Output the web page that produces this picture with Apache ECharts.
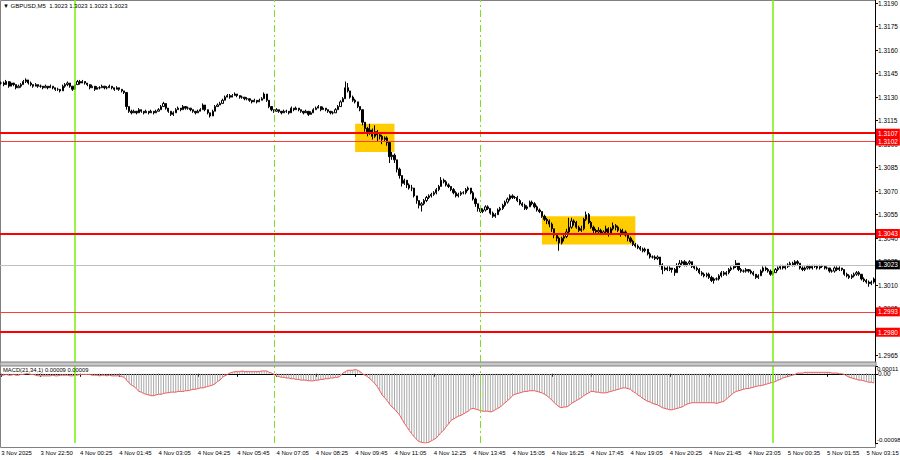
<!DOCTYPE html>
<html><head><meta charset="utf-8">
<script src="https://cdn.jsdelivr.net/npm/echarts@6/dist/echarts.min.js"></script>
<style>html,body{margin:0;padding:0;background:#fff}#c{width:900px;height:460px}</style>
</head><body><div id="c"></div>
<script>
const chartTitle = '\u25BC GBPUSD,M5  1.3023 1.3023 1.3023 1.3023';
const macdTitle = 'MACD(21,34,1) 0.00009 0.00009';
const timeLabels = ['3 Nov 2025','3 Nov 22:50','4 Nov 00:25','4 Nov 01:45','4 Nov 03:05','4 Nov 04:25','4 Nov 05:45','4 Nov 07:05','4 Nov 08:25','4 Nov 09:45','4 Nov 11:05','4 Nov 12:25','4 Nov 13:45','4 Nov 15:05','4 Nov 16:25','4 Nov 17:45','4 Nov 19:05','4 Nov 20:25','4 Nov 21:45','4 Nov 23:05','5 Nov 00:35','5 Nov 01:55','5 Nov 03:15'];
const barsPerLabel = 16;
const priceTicks = [1.2965,1.2980,1.2995,1.3010,1.3025,1.3040,1.3055,1.3070,1.3085,1.3100,1.3115,1.3130,1.3145,1.3160,1.3175,1.3190];
const macdTicks = [0.00011, 0, -0.00098];
const macdTickLabels = ['0.00011','0.00','-0.00098'];

const opens = [
1.3139,1.3139,1.3138,1.3140,1.3137,1.3139,1.3138,1.3136,1.3137,1.3138,1.3140,1.3141,
1.3139,1.3138,1.3137,1.3138,1.3137,1.3137,1.3136,1.3137,1.3136,1.3137,1.3136,1.3135,1.3135,
1.3134,1.3137,1.3138,1.3139,1.3137,1.3135,1.3138,1.3140,1.3139,
1.3140,1.3139,1.3138,1.3136,1.3137,1.3135,1.3136,1.3136,1.3137,1.3136,1.3136,1.3137,1.3136,1.3135,1.3136,1.3135,1.3134,1.3133,
1.3124,1.3121,1.3120,1.3121,1.3120,1.3122,1.3121,1.3120,1.3121,1.3120,1.3121,1.3120,1.3121,
1.3122,1.3124,1.3126,1.3123,1.3121,1.3119,1.3120,1.3122,1.3123,1.3122,1.3124,1.3123,
1.3123,1.3122,1.3121,1.3120,1.3121,1.3122,1.3125,1.3122,1.3120,1.3118,1.3121,1.3124,1.3125,
1.3126,1.3128,1.3130,1.3131,1.3130,1.3131,1.3132,1.3131,1.3130,1.3130,1.3129,1.3129,1.3128,1.3127,1.3128,1.3127,
1.3128,1.3129,1.3132,1.3128,1.3124,1.3122,1.3121,1.3122,1.3121,1.3120,1.3121,1.3121,1.3120,1.3123,1.3122,1.3123,
1.3122,1.3121,1.3120,1.3121,1.3119,1.3120,1.3122,1.3123,1.3124,1.3122,1.3123,1.3122,1.3121,1.3120,1.3120,1.3122,1.3124,1.3127,1.3129,
1.3136,1.3134,1.3130,1.3128,1.3127,1.3124,1.3122,1.3114,1.3110,1.3107,1.3109,1.3105,1.3108,1.3106,1.3105,1.3103,1.3104,1.3101,
1.3092,1.3093,1.3090,1.3084,1.3080,1.3075,1.3077,1.3074,1.3072,1.3072,1.3067,1.3064,1.3061,1.3062,1.3064,1.3066,1.3067,1.3068,
1.3069,1.3071,1.3073,1.3077,1.3076,1.3074,1.3073,1.3071,1.3069,1.3067,1.3068,1.3069,1.3069,1.3071,
1.3072,1.3069,1.3065,1.3062,1.3059,1.3057,1.3058,1.3060,1.3059,1.3056,1.3054,1.3055,1.3058,1.3059,
1.3061,1.3063,1.3065,1.3067,1.3066,1.3066,1.3064,1.3062,1.3061,1.3059,1.3060,1.3063,1.3062,1.3060,1.3058,
1.3057,1.3054,1.3052,1.3051,1.3049,1.3046,1.3042,1.3040,1.3037,1.3040,1.3041,1.3044,1.3047,1.3051,1.3050,1.3047,1.3045,1.3046,1.3052,
1.3055,1.3050,1.3047,1.3045,1.3044,1.3045,1.3043,1.3044,1.3046,1.3043,1.3046,1.3048,1.3047,1.3045,1.3043,1.3044,1.3042,
1.3040,1.3038,1.3036,1.3035,1.3034,1.3033,1.3032,1.3033,1.3030,1.3028,1.3028,1.3027,1.3028,1.3023,1.3020,1.3021,1.3020,1.3021,1.3020,1.3018,
1.3022,1.3024,1.3025,1.3023,1.3024,1.3025,1.3022,1.3021,1.3020,1.3018,1.3017,1.3016,1.3017,1.3015,1.3013,1.3014,1.3014,1.3016,1.3018,1.3017,1.3018,1.3020,1.3021,1.3022,
1.3024,1.3020,1.3019,1.3019,1.3020,1.3019,1.3018,1.3017,1.3015,1.3016,1.3019,1.3021,1.3020,1.3019,1.3017,1.3018,1.3020,1.3021,1.3022,1.3021,1.3022,1.3023,1.3024,1.3023,1.3025,
1.3024,1.3021,1.3020,1.3021,1.3022,1.3021,1.3022,1.3022,1.3021,1.3022,1.3022,1.3021,1.3021,1.3019,1.3019,1.3021,1.3020,1.3021,1.3020,1.3017,1.3016,1.3015,1.3016,1.3017,1.3018,
1.3017,1.3014,1.3013,1.3012,1.3011,1.3012];

const closes = [
1.3139,1.3138,1.3140,1.3137,1.3139,1.3138,1.3136,1.3137,1.3138,1.3140,1.3141,1.3139,
1.3138,1.3137,1.3138,1.3137,1.3137,1.3136,1.3137,1.3136,1.3137,1.3136,1.3135,1.3135,1.3134,
1.3137,1.3138,1.3139,1.3137,1.3135,1.3138,1.3140,1.3139,1.3140,
1.3139,1.3138,1.3136,1.3137,1.3135,1.3136,1.3136,1.3137,1.3136,1.3136,1.3137,1.3136,1.3135,1.3136,1.3135,1.3134,1.3133,1.3124,
1.3121,1.3120,1.3121,1.3120,1.3122,1.3121,1.3120,1.3121,1.3120,1.3121,1.3120,1.3121,1.3122,
1.3124,1.3126,1.3123,1.3121,1.3119,1.3120,1.3122,1.3123,1.3122,1.3124,1.3123,1.3123,
1.3122,1.3121,1.3120,1.3121,1.3122,1.3125,1.3122,1.3120,1.3118,1.3121,1.3124,1.3125,1.3126,
1.3128,1.3130,1.3131,1.3130,1.3131,1.3132,1.3131,1.3130,1.3130,1.3129,1.3129,1.3128,1.3127,1.3128,1.3127,1.3128,
1.3129,1.3132,1.3128,1.3124,1.3122,1.3121,1.3122,1.3121,1.3120,1.3121,1.3121,1.3120,1.3123,1.3122,1.3123,1.3122,
1.3121,1.3120,1.3121,1.3119,1.3120,1.3122,1.3123,1.3124,1.3122,1.3123,1.3122,1.3121,1.3120,1.3120,1.3122,1.3124,1.3127,1.3129,1.3136,
1.3134,1.3130,1.3128,1.3127,1.3124,1.3122,1.3114,1.3110,1.3107,1.3109,1.3105,1.3108,1.3106,1.3105,1.3103,1.3104,1.3101,1.3092,
1.3093,1.3090,1.3084,1.3080,1.3075,1.3077,1.3074,1.3072,1.3072,1.3067,1.3064,1.3061,1.3062,1.3064,1.3066,1.3067,1.3068,1.3069,
1.3071,1.3073,1.3077,1.3076,1.3074,1.3073,1.3071,1.3069,1.3067,1.3068,1.3069,1.3069,1.3071,1.3072,
1.3069,1.3065,1.3062,1.3059,1.3057,1.3058,1.3060,1.3059,1.3056,1.3054,1.3055,1.3058,1.3059,1.3061,
1.3063,1.3065,1.3067,1.3066,1.3066,1.3064,1.3062,1.3061,1.3059,1.3060,1.3063,1.3062,1.3060,1.3058,1.3057,
1.3054,1.3052,1.3051,1.3049,1.3046,1.3042,1.3040,1.3037,1.3040,1.3041,1.3044,1.3047,1.3051,1.3050,1.3047,1.3045,1.3046,1.3052,1.3055,
1.3050,1.3047,1.3045,1.3044,1.3045,1.3043,1.3044,1.3046,1.3043,1.3046,1.3048,1.3047,1.3045,1.3043,1.3044,1.3042,1.3040,
1.3038,1.3036,1.3035,1.3034,1.3033,1.3032,1.3033,1.3030,1.3028,1.3028,1.3027,1.3028,1.3023,1.3020,1.3021,1.3020,1.3021,1.3020,1.3018,1.3022,
1.3024,1.3025,1.3023,1.3024,1.3025,1.3022,1.3021,1.3020,1.3018,1.3017,1.3016,1.3017,1.3015,1.3013,1.3014,1.3014,1.3016,1.3018,1.3017,1.3018,1.3020,1.3021,1.3022,1.3024,
1.3020,1.3019,1.3019,1.3020,1.3019,1.3018,1.3017,1.3015,1.3016,1.3019,1.3021,1.3020,1.3019,1.3017,1.3018,1.3020,1.3021,1.3022,1.3021,1.3022,1.3023,1.3024,1.3023,1.3025,1.3024,
1.3021,1.3020,1.3021,1.3022,1.3021,1.3022,1.3022,1.3021,1.3022,1.3022,1.3021,1.3021,1.3019,1.3019,1.3021,1.3020,1.3021,1.3020,1.3017,1.3016,1.3015,1.3016,1.3017,1.3018,1.3017,
1.3014,1.3013,1.3012,1.3011,1.3012,1.3014];

const highs = [
1.3140,1.3140,1.3141,1.3140,1.3140,1.3139,1.3138,1.3138,1.3139,1.3141,1.3142,1.3141,
1.3140,1.3138,1.3139,1.3138,1.3138,1.3137,1.3138,1.3137,1.3138,1.3137,1.3136,1.3136,1.3135,
1.3138,1.3139,1.3140,1.3139,1.3137,1.3138,1.3141,1.3141,1.3141,
1.3140,1.3139,1.3138,1.3138,1.3137,1.3137,1.3137,1.3138,1.3137,1.3137,1.3138,1.3137,1.3136,1.3137,1.3136,1.3135,1.3134,1.3133,
1.3124,1.3122,1.3122,1.3121,1.3123,1.3122,1.3121,1.3122,1.3121,1.3122,1.3121,1.3122,1.3123,
1.3125,1.3127,1.3126,1.3123,1.3121,1.3121,1.3123,1.3124,1.3123,1.3125,1.3124,1.3124,
1.3123,1.3122,1.3121,1.3122,1.3123,1.3126,1.3125,1.3122,1.3120,1.3122,1.3125,1.3126,1.3127,
1.3129,1.3131,1.3132,1.3132,1.3132,1.3133,1.3132,1.3131,1.3131,1.3130,1.3130,1.3129,1.3128,1.3129,1.3128,1.3129,
1.3130,1.3133,1.3132,1.3128,1.3124,1.3122,1.3123,1.3122,1.3121,1.3122,1.3122,1.3121,1.3124,1.3123,1.3124,1.3123,
1.3122,1.3121,1.3122,1.3121,1.3121,1.3123,1.3124,1.3125,1.3124,1.3124,1.3123,1.3122,1.3121,1.3121,1.3123,1.3125,1.3128,1.3130,1.3140,
1.3139,1.3134,1.3131,1.3129,1.3127,1.3124,1.3122,1.3114,1.3111,1.3113,1.3110,1.3112,1.3109,1.3107,1.3106,1.3105,1.3105,1.3101,
1.3095,1.3094,1.3090,1.3085,1.3080,1.3078,1.3077,1.3075,1.3074,1.3072,1.3067,1.3064,1.3063,1.3065,1.3067,1.3068,1.3069,1.3070,
1.3072,1.3074,1.3079,1.3078,1.3077,1.3075,1.3073,1.3072,1.3070,1.3069,1.3070,1.3070,1.3072,1.3073,
1.3072,1.3070,1.3066,1.3062,1.3060,1.3059,1.3061,1.3061,1.3059,1.3057,1.3056,1.3059,1.3060,1.3062,
1.3064,1.3066,1.3068,1.3068,1.3067,1.3067,1.3065,1.3063,1.3062,1.3061,1.3064,1.3064,1.3063,1.3061,1.3059,
1.3057,1.3055,1.3053,1.3052,1.3050,1.3046,1.3043,1.3041,1.3041,1.3043,1.3046,1.3053,1.3053,1.3052,1.3051,1.3048,1.3048,1.3053,1.3057,
1.3056,1.3051,1.3048,1.3046,1.3047,1.3046,1.3045,1.3048,1.3047,1.3047,1.3050,1.3049,1.3048,1.3046,1.3046,1.3045,1.3043,
1.3041,1.3039,1.3037,1.3036,1.3035,1.3034,1.3034,1.3033,1.3031,1.3029,1.3029,1.3029,1.3028,1.3024,1.3022,1.3022,1.3022,1.3021,1.3021,1.3024,
1.3026,1.3026,1.3026,1.3025,1.3026,1.3025,1.3023,1.3022,1.3021,1.3019,1.3018,1.3018,1.3018,1.3016,1.3015,1.3015,1.3017,1.3019,1.3019,1.3019,1.3021,1.3022,1.3023,1.3026,
1.3024,1.3021,1.3020,1.3021,1.3020,1.3020,1.3019,1.3017,1.3017,1.3020,1.3022,1.3022,1.3021,1.3020,1.3019,1.3021,1.3022,1.3023,1.3023,1.3023,1.3024,1.3025,1.3025,1.3026,1.3026,
1.3024,1.3022,1.3022,1.3023,1.3023,1.3023,1.3023,1.3023,1.3023,1.3023,1.3022,1.3022,1.3021,1.3020,1.3022,1.3022,1.3022,1.3021,1.3020,1.3018,1.3017,1.3017,1.3018,1.3019,1.3019,
1.3017,1.3015,1.3014,1.3013,1.3013,1.3015];

const lows = [
1.3138,1.3137,1.3138,1.3136,1.3137,1.3137,1.3135,1.3136,1.3136,1.3138,1.3139,1.3138,
1.3137,1.3136,1.3137,1.3136,1.3136,1.3135,1.3136,1.3135,1.3136,1.3135,1.3134,1.3134,1.3133,
1.3134,1.3136,1.3137,1.3136,1.3134,1.3135,1.3138,1.3138,1.3139,
1.3138,1.3137,1.3135,1.3136,1.3134,1.3135,1.3135,1.3136,1.3135,1.3135,1.3136,1.3135,1.3134,1.3135,1.3134,1.3133,1.3132,1.3122,
1.3120,1.3119,1.3120,1.3119,1.3120,1.3120,1.3119,1.3120,1.3119,1.3120,1.3119,1.3120,1.3121,
1.3122,1.3124,1.3122,1.3120,1.3118,1.3118,1.3120,1.3122,1.3121,1.3122,1.3122,1.3122,
1.3121,1.3120,1.3119,1.3120,1.3121,1.3122,1.3121,1.3119,1.3117,1.3118,1.3121,1.3124,1.3125,
1.3126,1.3128,1.3130,1.3129,1.3130,1.3131,1.3130,1.3129,1.3129,1.3128,1.3128,1.3127,1.3126,1.3127,1.3126,1.3127,
1.3128,1.3129,1.3127,1.3123,1.3121,1.3120,1.3121,1.3120,1.3119,1.3120,1.3120,1.3119,1.3120,1.3121,1.3122,1.3121,
1.3120,1.3119,1.3120,1.3118,1.3119,1.3120,1.3122,1.3123,1.3121,1.3122,1.3121,1.3120,1.3119,1.3119,1.3120,1.3122,1.3124,1.3127,1.3129,
1.3133,1.3129,1.3127,1.3126,1.3123,1.3121,1.3112,1.3108,1.3105,1.3106,1.3103,1.3104,1.3102,1.3103,1.3100,1.3102,1.3099,1.3088,
1.3090,1.3088,1.3082,1.3078,1.3073,1.3074,1.3072,1.3071,1.3070,1.3066,1.3062,1.3059,1.3057,1.3061,1.3063,1.3065,1.3066,1.3067,
1.3068,1.3070,1.3073,1.3075,1.3073,1.3072,1.3070,1.3068,1.3066,1.3066,1.3067,1.3068,1.3068,1.3070,
1.3068,1.3064,1.3060,1.3057,1.3056,1.3056,1.3057,1.3058,1.3055,1.3053,1.3053,1.3055,1.3057,1.3058,
1.3060,1.3062,1.3064,1.3065,1.3065,1.3063,1.3061,1.3060,1.3058,1.3058,1.3060,1.3061,1.3059,1.3057,1.3056,
1.3053,1.3051,1.3049,1.3047,1.3044,1.3040,1.3038,1.3032,1.3036,1.3038,1.3040,1.3043,1.3046,1.3048,1.3046,1.3044,1.3044,1.3045,1.3051,
1.3049,1.3046,1.3043,1.3042,1.3043,1.3042,1.3042,1.3043,1.3041,1.3042,1.3045,1.3045,1.3044,1.3041,1.3042,1.3041,1.3038,
1.3037,1.3035,1.3034,1.3033,1.3032,1.3031,1.3031,1.3029,1.3027,1.3027,1.3026,1.3026,1.3022,1.3017,1.3019,1.3019,1.3019,1.3018,1.3016,1.3018,
1.3021,1.3023,1.3022,1.3022,1.3023,1.3021,1.3020,1.3019,1.3017,1.3016,1.3015,1.3015,1.3014,1.3012,1.3011,1.3013,1.3013,1.3015,1.3016,1.3016,1.3017,1.3019,1.3020,1.3021,
1.3019,1.3018,1.3018,1.3018,1.3018,1.3017,1.3016,1.3014,1.3014,1.3016,1.3018,1.3019,1.3018,1.3016,1.3016,1.3018,1.3019,1.3020,1.3020,1.3020,1.3021,1.3022,1.3022,1.3022,1.3023,
1.3020,1.3019,1.3019,1.3020,1.3020,1.3020,1.3021,1.3020,1.3020,1.3021,1.3020,1.3020,1.3018,1.3018,1.3018,1.3019,1.3019,1.3019,1.3016,1.3015,1.3014,1.3014,1.3015,1.3016,1.3016,
1.3013,1.3012,1.3011,1.3009,1.3010,1.3011];

const macd = [
-0.00002,-0.00002,-0.00001,-0.00002,-0.00002,-0.00001,-0.00002,-0.00002,-0.00001,
-0.00001,0,0,-0.00001,-0.00001,
-0.00002,-0.00003,-0.00003,-0.00003,-0.00003,-0.00003,-0.00003,-0.00002,-0.00003,-0.00003,
-0.00002,-0.00002,-0.00002,-0.00002,
-0.00003,-0.00003,-0.00002,-0.00002,
-0.00001,-0.00001,-0.00001,-0.00001,-0.00001,-0.00002,-0.00002,
-0.00002,-0.00003,-0.00002,-0.00002,-0.00003,-0.00002,-0.00003,-0.00003,-0.00003,-0.00003,
-0.00004,-0.00005,-0.00009,-0.00013,-0.00016,-0.00018,-0.00021,
-0.00025,-0.00026,-0.00028,-0.00029,-0.00030,-0.00031,-0.00031,
-0.00030,-0.00029,-0.00029,-0.00028,-0.00027,
-0.00027,-0.00026,-0.00026,-0.00026,-0.00025,-0.00025,
-0.00025,-0.00024,-0.00024,-0.00023,-0.00022,-0.00022,-0.00021,
-0.00020,-0.00020,-0.00019,-0.00018,-0.00017,-0.00016,
-0.00014,-0.00011,-0.00009,-0.00005,-0.00003,-0.00001,0.00001,
0.00002,0.00003,0.00003,0.00003,0.00004,0.00003,0.00003,0.00003,0.00003,0.00003,0.00003,0.00003,
0.00004,0.00004,0.00004,0.00002,0.00001,-0.00001,
-0.00003,-0.00004,-0.00005,-0.00005,-0.00006,-0.00006,-0.00007,-0.00007,
-0.00008,-0.00008,-0.00009,-0.00009,-0.00009,-0.00010,-0.00010,
-0.00010,-0.00009,-0.00009,-0.00008,-0.00008,-0.00007,-0.00007,-0.00006,
-0.00006,-0.00005,-0.00005,-0.00003,0.00001,0.00003,
0.00005,0.00005,0.00005,0.00006,0.00005,0.00003,
0,-0.00002,-0.00004,-0.00007,-0.00010,-0.00014,-0.00018,
-0.00024,-0.00030,-0.00034,-0.00038,-0.00043,-0.00047,-0.00050,
-0.00054,-0.00058,-0.00064,-0.00070,-0.00075,-0.00080,-0.00085,
-0.00089,-0.00093,-0.00096,-0.00097,-0.00098,-0.00098,-0.00097,-0.00095,
-0.00093,-0.00091,-0.00087,-0.00083,-0.00080,-0.00075,-0.00071,-0.00066,
-0.00064,-0.00062,-0.00060,-0.00059,-0.00057,-0.00055,-0.00053,
-0.00050,-0.00049,-0.00050,-0.00051,-0.00052,-0.00053,
-0.00053,-0.00053,-0.00054,-0.00053,-0.00051,-0.00049,-0.00047,-0.00044,
-0.00041,-0.00038,-0.00035,-0.00031,-0.00029,-0.00028,-0.00027,-0.00026,
-0.00025,-0.00025,-0.00024,-0.00024,-0.00024,-0.00025,-0.00026,-0.00027,
-0.00029,-0.00031,-0.00034,-0.00037,-0.00041,-0.00044,-0.00047,
-0.00048,-0.00047,-0.00047,-0.00045,-0.00042,-0.00040,
-0.00038,-0.00036,-0.00034,-0.00031,-0.00029,-0.00027,-0.00025,
-0.00025,-0.00026,-0.00026,-0.00027,-0.00027,-0.00027,-0.00026,
-0.00025,-0.00024,-0.00023,-0.00022,-0.00021,-0.00020,
-0.00020,-0.00021,-0.00022,-0.00025,-0.00027,-0.00030,-0.00032,-0.00035,
-0.00037,-0.00039,-0.00040,-0.00042,-0.00043,-0.00044,-0.00046,
-0.00048,-0.00049,-0.00050,-0.00051,-0.00051,-0.00050,-0.00049,-0.00048,
-0.00047,-0.00045,-0.00043,-0.00042,-0.00041,-0.00041,-0.00041,
-0.00041,-0.00041,-0.00041,-0.00041,-0.00041,-0.00041,-0.00041,-0.00042,
-0.00041,-0.00040,-0.00039,-0.00036,-0.00033,-0.00030,-0.00027,-0.00025,
-0.00024,-0.00023,-0.00022,-0.00021,-0.00021,-0.00020,
-0.00019,-0.00018,-0.00017,-0.00017,-0.00016,-0.00015,-0.00014,-0.00013,-0.00012,
-0.00011,-0.00009,-0.00008,-0.00006,-0.00005,-0.00004,-0.00003,-0.00002,-0.00001,0.00001,
0.00001,0.00001,0.00002,0.00002,0.00002,0.00002,0.00002,0.00002,0.00002,0.00002,0.00002,
0.00002,0.00002,0.00001,0.00001,0.00001,0,0,-0.00001,-0.00003,
-0.00005,-0.00006,-0.00007,-0.00008,-0.00009,-0.00009,-0.00010,-0.00011,-0.00012,-0.00012,-0.00013];

const strongLevels = [1.3107, 1.3043, 1.2980];
const weakLevels = [1.3102, 1.2993];
const bidPrice = 1.3023;
const dayStartBars = [30, 314];
const sessionBars = [111, 195];
const zones = [[144, 160, 1.3113, 1.3095], [220, 258, 1.3054, 1.3036]];

const FONT = 'Liberation Sans, Arial, sans-serif';
const categories = closes.map((_, i) => String(i));
const ohlc = closes.map((c, i) => [opens[i], c, lows[i], highs[i]]);

function levelItem(v, color, width, boxColor) {
  return {
    yAxis: v, name: v.toFixed(4),
    lineStyle: { color: color, width: width, type: 'solid' },
    label: { show: true, position: 'end', formatter: '{b}', distance: 1,
      backgroundColor: boxColor, color: '#fff',
      padding: [1, 2, 1, 2], fontSize: 6.5, fontFamily: FONT }
  };
}
function vLines() {
  return dayStartBars.map(b => ({ xAxis: b, lineStyle: { color: '#76f000', width: 1.5, type: 'solid' } }))
    .concat(sessionBars.map(b => ({ xAxis: b, lineStyle: { color: '#7ee020', width: 1, type: [7, 3, 2, 3] } })));
}
const zeroLabelItem = {
  yAxis: 0, name: macdTickLabels[1],
  lineStyle: { color: 'rgba(0,0,0,0)', width: 1 },
  label: { show: true, position: 'end', formatter: '{b}', distance: 3, color: '#000', fontSize: 6.5, fontFamily: FONT }
};

const chart = echarts.init(document.getElementById('c'), null, { renderer: 'svg', width: 900, height: 460 });
chart.setOption({
  animation: false,
  backgroundColor: '#fff',
  title: [
    { text: chartTitle, left: 3, top: 3, padding: 0, textStyle: { fontSize: 6, fontWeight: 'normal', color: '#000', fontFamily: FONT } },
    { text: macdTitle, left: 3, top: 367, padding: 0, textStyle: { fontSize: 5.8, fontWeight: 'normal', color: '#000', fontFamily: FONT } }
  ],
  grid: [
    { left: 0, right: 25, top: 0, height: 362, outerBoundsMode: 'none', containLabel: false },
    { left: 0, right: 25, top: 366, height: 77, outerBoundsMode: 'none', containLabel: false }
  ],
  xAxis: [
    { gridIndex: 0, type: 'category', data: categories, boundaryGap: true,
      axisLine: { show: false }, axisTick: { show: false }, axisLabel: { show: false }, splitLine: { show: false } },
    { gridIndex: 1, type: 'category', data: categories, boundaryGap: true, offset: 4,
      axisLine: { show: true, lineStyle: { color: '#000', width: 1 } },
      axisTick: { show: true, alignWithLabel: true, interval: (i) => i % barsPerLabel === 0, length: 3, lineStyle: { color: '#000' } },
      axisLabel: { interval: (i) => i % barsPerLabel === 0, formatter: (v, i) => timeLabels[i / barsPerLabel] || '',
        align: 'left', fontSize: 6, margin: 3, color: '#000', fontFamily: FONT, hideOverlap: false },
      splitLine: { show: false } }
  ],
  yAxis: [
    { gridIndex: 0, type: 'value', position: 'right', min: 1.2961, max: 1.3192,
      axisLine: { show: true, lineStyle: { color: '#000', width: 1 } },
      axisTick: { show: true, customValues: priceTicks, length: 3, lineStyle: { color: '#000' } },
      axisLabel: { customValues: priceTicks, formatter: v => v.toFixed(4), fontSize: 6.5, color: '#000', margin: 3, fontFamily: FONT, hideOverlap: false },
      splitLine: { show: false } },
    { gridIndex: 1, type: 'value', position: 'right', min: -0.00098, max: 0.00011,
      axisLine: { show: true, lineStyle: { color: '#000', width: 1 } },
      axisTick: { show: true, customValues: macdTicks, length: 3, lineStyle: { color: '#000' } },
      axisLabel: { customValues: [macdTicks[0], macdTicks[2]], fontSize: 6, color: '#000', margin: 2, fontFamily: FONT, hideOverlap: false,
        formatter: v => {
          const k = macdTicks.findIndex(t => Math.abs(t - v) < 1e-9);
          const s = macdTickLabels[k] || '';
          return k === 0 ? '{t|' + s + '}' : (k === 2 ? '{b|' + s + '}' : s);
        },
        rich: { t: { padding: [6, 0, 0, 0], fontSize: 6, fontFamily: FONT, color: '#000' }, b: { padding: [0, 0, 6, 0], fontSize: 6, fontFamily: FONT, color: '#000' } } },
      splitLine: { show: false } }
  ],
  series: [
    { type: 'line', xAxisIndex: 0, yAxisIndex: 0, data: [], z: 1, silent: true,
      markArea: { silent: true, itemStyle: { color: '#ffcc00', opacity: 1 },
        data: zones.map(z => [{ xAxis: z[0], yAxis: z[2] }, { xAxis: z[1], yAxis: z[3] }]) } },
    { type: 'candlestick', xAxisIndex: 0, yAxisIndex: 0, data: ohlc, barWidth: 1.7, z: 3, silent: true,
      itemStyle: { color: '#ffffff', color0: '#000000', borderColor: '#000000', borderColor0: '#000000', borderWidth: 1 },
      markLine: { silent: true, precision: 6, symbol: ['none', 'none'], animation: false, label: { show: false },
        data: vLines()
          .concat([levelItem(bidPrice, '#c0c0c0', 1, '#000000')])
          .concat(strongLevels.map(v => levelItem(v, '#ff0000', 2, '#ff0000')))
          .concat(weakLevels.map(v => levelItem(v, '#ff3c3c', 1, '#ff0000'))) } },
    { type: 'bar', xAxisIndex: 1, yAxisIndex: 1, data: macd, barWidth: 1, silent: true,
      itemStyle: { color: '#a8a8a8' } },
    { type: 'line', xAxisIndex: 1, yAxisIndex: 1, data: macd, symbol: 'none', silent: true, z: 4,
      lineStyle: { color: '#f05a5a', width: 1 },
      markLine: { silent: true, precision: 6, symbol: ['none', 'none'], animation: false, label: { show: false },
        data: vLines().concat([zeroLabelItem]) } }
  ],
  graphic: [
    { type: 'rect', silent: true, z: -1, shape: { x: 0.5, y: 0.5, width: 875, height: 447 }, style: { fill: 'none', stroke: '#808080', lineWidth: 1 } },
    { type: 'rect', silent: true, z: 10, shape: { x: 0, y: 362, width: 876, height: 4 }, style: { fill: '#c8c8c8', stroke: '#808080', lineWidth: 1 } }
  ]
});
</script>
</body></html>
